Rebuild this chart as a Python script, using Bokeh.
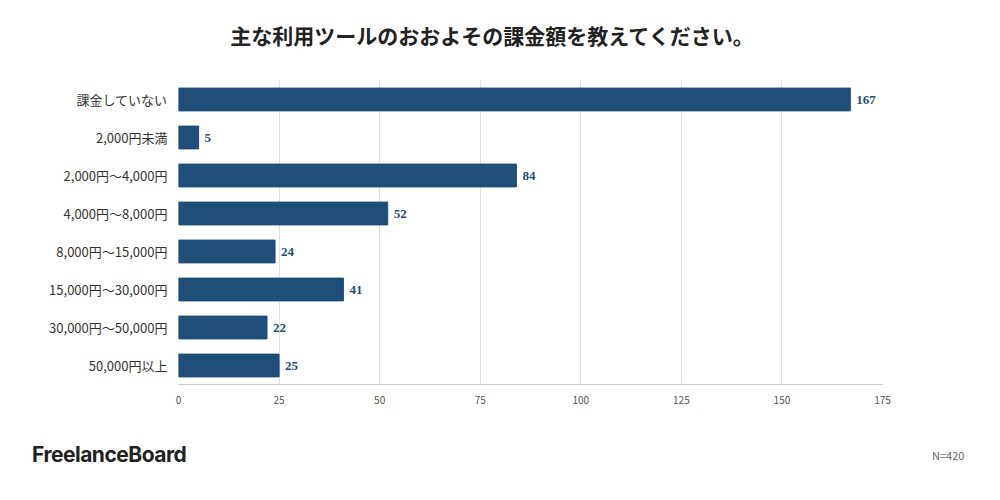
from bokeh.plotting import figure
from bokeh.models import ColumnDataSource, Div, LabelSet
from bokeh.layouts import column, row
from bokeh.embed import file_html
from bokeh.resources import INLINE

categories = ["課金していない", "2,000円未満", "2,000円〜4,000円", "4,000円〜8,000円",
              "8,000円〜15,000円", "15,000円〜30,000円", "30,000円〜50,000円", "50,000円以上"]
values = [167, 5, 84, 52, 24, 41, 22, 25]

FONT = "Noto Sans CJK JP"
src = ColumnDataSource(dict(cat=categories, val=values, lab=[str(v) for v in values]))

p = figure(y_range=list(reversed(categories)), x_range=(0, 175), width=984, height=362,
           output_backend="svg", toolbar_location=None,
           min_border_left=178, min_border_right=102, min_border_top=10, min_border_bottom=48)
p.hbar(y="cat", right="val", height=0.6, color="#1f4e79", source=src)
p.add_layout(LabelSet(x="val", y="cat", text="lab", source=src, x_offset=6, y_offset=0,
                      text_baseline="middle", text_font=FONT, text_font_style="bold",
                      text_font_size="13px", text_color="#1f4e79"))
p.xaxis.ticker = [0, 25, 50, 75, 100, 125, 150, 175]
p.xaxis.major_label_text_font_size = "10px"
p.xaxis.major_label_text_color = "#555555"
p.xaxis.axis_line_color = "#cccccc"
p.xaxis.major_tick_line_color = None
p.xaxis.minor_tick_line_color = None
p.yaxis.axis_line_color = None
p.yaxis.major_tick_line_color = None
p.yaxis.major_label_text_font = FONT
p.yaxis.major_label_text_font_size = "13px"
p.yaxis.major_label_text_color = "#333333"
p.xaxis.major_label_text_font = FONT
p.ygrid.grid_line_color = None
p.xgrid.grid_line_color = "#e0e0e0"
p.outline_line_color = None

title = Div(text="主な利用ツールのおおよその課金額を教えてください。", width=984, height=70, margin=0,
            styles={"font-family": FONT, "font-size": "21px", "font-weight": "bold",
                    "text-align": "center", "width": "984px", "padding-top": "20px", "color": "#222"})
left = Div(text="FreelanceBoard", width=800, height=50, margin=0,
           styles={"font-family": "Inter", "font-size": "21px", "font-weight": "bold",
                   "color": "#222", "padding-left": "32px", "padding-top": "8px", "letter-spacing": "-0.5px"})
right = Div(text="N=420", width=184, height=50, margin=0,
            styles={"font-family": FONT, "font-size": "11px", "color": "#666",
                    "padding-left": "132px", "padding-top": "16px"})
layout = column(title, p, row(left, right, spacing=0), spacing=0)
open("out.html", "w").write(file_html(layout, INLINE))
